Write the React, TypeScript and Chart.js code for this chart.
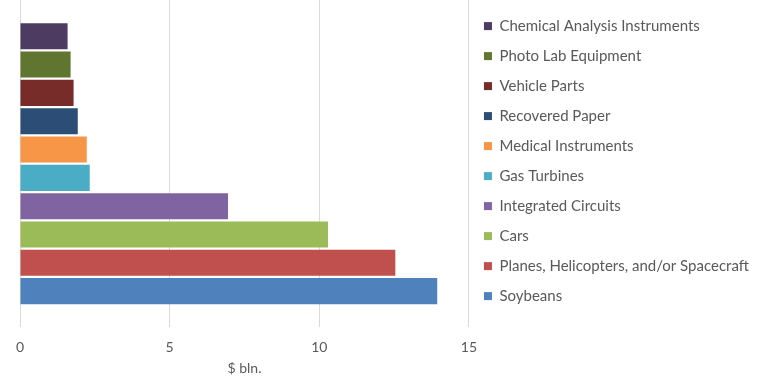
import React, { useEffect, useRef } from "react";
import { Chart, registerables } from "chart.js";

Chart.register(...registerables);

const seriesNames = [
  "Chemical Analysis Instruments",
  "Photo Lab Equipment",
  "Vehicle Parts",
  "Recovered Paper",
  "Medical Instruments",
  "Gas Turbines",
  "Integrated Circuits",
  "Cars",
  "Planes, Helicopters, and/or Spacecraft",
  "Soybeans",
];
const seriesValues = [1.59, 1.69, 1.79, 1.93, 2.23, 2.33, 6.95, 10.29, 12.54, 13.94];
const seriesColors = [
  "#4D3B62", "#5F7530", "#772C2A", "#2C4D75", "#F79646",
  "#4BACC6", "#8064A2", "#9BBB59", "#C0504D", "#4F81BD",
];
const categories = [""];
const xTicks = [0, 5, 10, 15];
const xTitle = "$ bln.";

const FONT = "Lato, 'Liberation Sans', sans-serif";

export default function App() {
  const ref = useRef<HTMLCanvasElement | null>(null);
  useEffect(() => {
    document.body.style.margin = "0";
    const ctx = ref.current!;
    const chart = new Chart(ctx, {
      type: "bar",
      data: {
        labels: categories,
        datasets: seriesNames.map((name, i) => ({
          label: name,
          data: [seriesValues[i]],
          backgroundColor: seriesColors[i],
          borderWidth: 0,
          categoryPercentage: 0.865,
          barPercentage: 0.92,
        })),
      },
      options: {
        indexAxis: "y",
        animation: false,
        responsive: false,
        maintainAspectRatio: false,
        layout: { padding: { left: 20, right: 1, top: 0, bottom: 5 } },
        plugins: {
          tooltip: { enabled: false },
          legend: {
            position: "right",
            align: "start",
            title: {
              display: true,
              text: " ",
              padding: 0,
              font: { family: FONT, size: 3 },
            },
            labels: {
              boxWidth: 8,
              boxHeight: 8,
              padding: 15,
              color: "#595959",
              font: { family: FONT, size: 15 },
            },
          },
        },
        scales: {
          x: {
            min: 0,
            max: 15,
            afterBuildTicks: (axis: any) => {
              axis.ticks = xTicks.map((v) => ({ value: v }));
            },
            grid: { color: "#D9D9D9", drawTicks: false },
            border: { display: false },
            ticks: {
              color: "#595959",
              padding: 12,
              font: { family: FONT, size: 14 },
            },
            title: {
              display: true,
              text: xTitle,
              color: "#595959",
              padding: { top: -8, bottom: 0 },
              font: { family: FONT, size: 14 },
            },
          },
          y: {
            display: false,
          },
        },
      },
    });
    return () => chart.destroy();
  }, []);
  return (
    <div style={{ width: 760, height: 382 }}>
      <canvas ref={ref} width={760} height={382} />
    </div>
  );
}
